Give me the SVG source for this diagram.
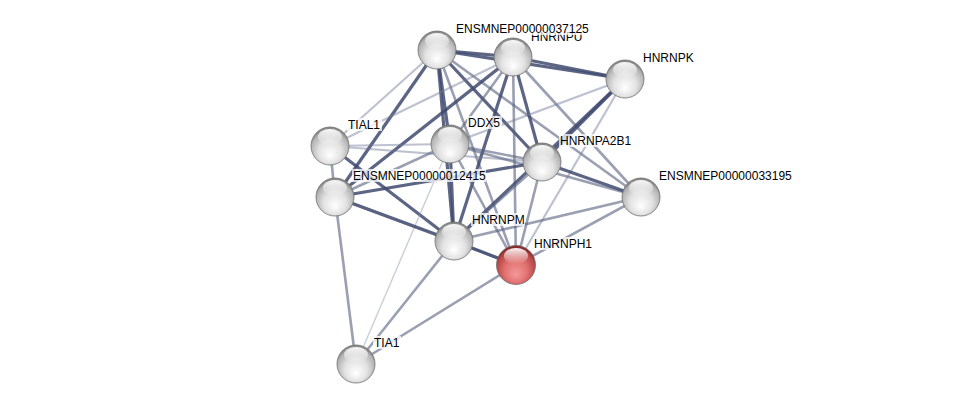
<svg xmlns="http://www.w3.org/2000/svg" width="975" height="409" viewBox="0 0 975 409">
<defs>
<radialGradient id="gw" cx="50%" cy="60%" r="55%" fx="50%" fy="75%">
<stop offset="0" stop-color="#ffffff"/>
<stop offset="0.55" stop-color="#e2e2e2"/>
<stop offset="0.9" stop-color="#b4b4b4"/>
<stop offset="1" stop-color="#8a8a8a"/>
</radialGradient>
<radialGradient id="gr" cx="50%" cy="60%" r="55%" fx="50%" fy="75%">
<stop offset="0" stop-color="#f59a9a"/>
<stop offset="0.55" stop-color="#e07070"/>
<stop offset="0.9" stop-color="#b84848"/>
<stop offset="1" stop-color="#8a2a2a"/>
</radialGradient>
<linearGradient id="hl" x1="0" y1="0" x2="0" y2="1">
<stop offset="0" stop-color="#ffffff" stop-opacity="0.95"/>
<stop offset="1" stop-color="#ffffff" stop-opacity="0"/>
</linearGradient>
<g id="hi"><ellipse cx="0" cy="-9" rx="12" ry="8" fill="url(#hl)"/></g>
</defs>
<style>
.e{fill:none;stroke-linecap:butt}
.d{stroke:#3f4a6e;stroke-width:3.2;stroke-opacity:0.85}
.m{stroke:#56607f;stroke-width:2.6;stroke-opacity:0.6}
.l{stroke:#6f7896;stroke-width:2.2;stroke-opacity:0.45}
.v{stroke:#8a92ac;stroke-width:1.4;stroke-opacity:0.45}
.n{stroke:#6e6e6e;stroke-width:0.8}
.t{font-family:"Liberation Sans",Arial,sans-serif;font-size:12px;fill:#000}
.bg{fill:#ffffff;fill-opacity:0.75}
</style>
<rect width="975" height="409" fill="#ffffff"/>
<g id="edges" class="e">
<line class="d" x1="437" y1="50" x2="513" y2="57"/>
<line class="d" x1="437" y1="50" x2="625" y2="79"/>
<line class="d" x1="513" y1="57" x2="625" y2="79"/>
<line class="l" x1="437" y1="50" x2="330" y2="146"/>
<line class="d" x1="437" y1="50" x2="335" y2="197"/>
<line class="d" x1="437" y1="50" x2="450" y2="144"/>
<line class="d" x1="437" y1="50" x2="542" y2="162"/>
<line class="d" x1="437" y1="50" x2="454" y2="241"/>
<line class="m" x1="437" y1="50" x2="516" y2="265"/>
<line class="m" x1="437" y1="50" x2="641" y2="197"/>
<line class="l" x1="513" y1="57" x2="330" y2="146"/>
<line class="d" x1="513" y1="57" x2="335" y2="197"/>
<line class="m" x1="513" y1="57" x2="450" y2="144"/>
<line class="d" x1="513" y1="57" x2="542" y2="162"/>
<line class="d" x1="513" y1="57" x2="454" y2="241"/>
<line class="m" x1="513" y1="57" x2="516" y2="265"/>
<line class="m" x1="513" y1="57" x2="641" y2="197"/>
<line class="l" x1="625" y1="79" x2="450" y2="144"/>
<line class="d" x1="625" y1="79" x2="542" y2="162"/>
<line class="d" x1="625" y1="79" x2="454" y2="241"/>
<line class="l" x1="625" y1="79" x2="516" y2="265"/>
<line class="l" x1="330" y1="146" x2="450" y2="144"/>
<line class="l" x1="330" y1="146" x2="542" y2="162"/>
<line class="m" x1="330" y1="146" x2="335" y2="197"/>
<line class="d" x1="330" y1="146" x2="454" y2="241"/>
<line class="m" x1="450" y1="144" x2="542" y2="162"/>
<line class="m" x1="450" y1="144" x2="335" y2="197"/>
<line class="d" x1="450" y1="144" x2="454" y2="241"/>
<line class="m" x1="450" y1="144" x2="516" y2="265"/>
<line class="m" x1="450" y1="144" x2="641" y2="197"/>
<line class="v" x1="450" y1="144" x2="356" y2="364"/>
<line class="d" x1="542" y1="162" x2="335" y2="197"/>
<line class="d" x1="542" y1="162" x2="641" y2="197"/>
<line class="m" x1="542" y1="162" x2="454" y2="241"/>
<line class="m" x1="542" y1="162" x2="516" y2="265"/>
<line class="d" x1="335" y1="197" x2="454" y2="241"/>
<line class="m" x1="335" y1="197" x2="516" y2="265"/>
<line class="m" x1="335" y1="197" x2="356" y2="364"/>
<line class="m" x1="641" y1="197" x2="454" y2="241"/>
<line class="m" x1="641" y1="197" x2="516" y2="265"/>
<line class="d" x1="454" y1="241" x2="516" y2="265"/>
<line class="m" x1="454" y1="241" x2="356" y2="364"/>
<line class="m" x1="516" y1="265" x2="356" y2="364"/>
</g>
<g id="HNRNPU"><circle class="n" cx="513" cy="57" r="19" fill="url(#gw)"/><use href="#hi" x="513" y="57"/><text class="t" x="531" y="41">HNRNPU</text></g>
<g id="ENSMNEP00000037125"><circle class="n" cx="437" cy="50" r="19" fill="url(#gw)"/><use href="#hi" x="437" y="50"/><rect class="bg" x="455" y="22" width="134" height="13"/><text class="t" x="456" y="33">ENSMNEP00000037125</text></g>
<g id="HNRNPK"><circle class="n" cx="625" cy="79" r="19" fill="url(#gw)"/><use href="#hi" x="625" y="79"/><rect class="bg" x="642" y="51" width="52" height="13"/><text class="t" x="643" y="62">HNRNPK</text></g>
<g id="TIAL1"><circle class="n" cx="330" cy="146" r="19" fill="url(#gw)"/><use href="#hi" x="330" y="146"/><rect class="bg" x="347" y="118" width="35" height="13"/><text class="t" x="348" y="129">TIAL1</text></g>
<g id="DDX5"><circle class="n" cx="450" cy="144" r="19" fill="url(#gw)"/><use href="#hi" x="450" y="144"/><rect class="bg" x="467" y="116" width="35" height="13"/><text class="t" x="468" y="127">DDX5</text></g>
<g id="HNRNPA2B1"><circle class="n" cx="542" cy="162" r="19" fill="url(#gw)"/><use href="#hi" x="542" y="162"/><rect class="bg" x="559" y="134" width="74" height="13"/><text class="t" x="560" y="145">HNRNPA2B1</text></g>
<g id="ENSMNEP00000012415"><circle class="n" cx="335" cy="197" r="19" fill="url(#gw)"/><use href="#hi" x="335" y="197"/><rect class="bg" x="352" y="169" width="134" height="13"/><text class="t" x="353" y="180">ENSMNEP00000012415</text></g>
<g id="ENSMNEP00000033195"><circle class="n" cx="641" cy="197" r="19" fill="url(#gw)"/><use href="#hi" x="641" y="197"/><rect class="bg" x="658" y="169" width="134" height="13"/><text class="t" x="659" y="180">ENSMNEP00000033195</text></g>
<g id="HNRNPM"><circle class="n" cx="454" cy="241" r="19" fill="url(#gw)"/><use href="#hi" x="454" y="241"/><rect class="bg" x="471" y="213" width="54" height="13"/><text class="t" x="472" y="224">HNRNPM</text></g>
<g id="HNRNPH1"><circle class="n" cx="516" cy="265" r="19.5" fill="url(#gr)" stroke="#8a3030"/><use href="#hi" x="516" y="265"/><rect class="bg" x="533" y="237" width="60" height="13"/><text class="t" x="534" y="248">HNRNPH1</text></g>
<g id="TIA1"><circle class="n" cx="356" cy="364" r="19" fill="url(#gw)"/><use href="#hi" x="356" y="364"/><rect class="bg" x="373" y="336" width="28" height="13"/><text class="t" x="374" y="347">TIA1</text></g>
</svg>
